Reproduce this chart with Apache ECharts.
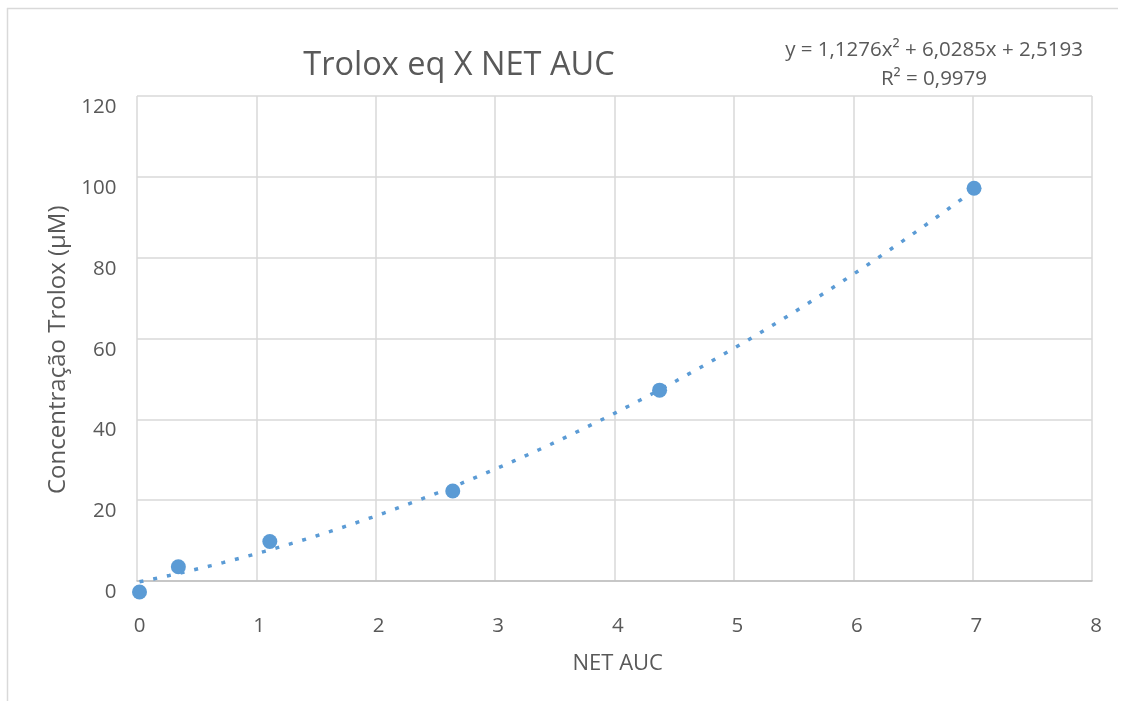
<!DOCTYPE html>
<html>
<head>
<meta charset="utf-8">
<title>Trolox eq X NET AUC</title>
<script src="https://cdn.jsdelivr.net/npm/echarts@6/dist/echarts.min.js"></script>
<style>
  html, body { margin: 0; padding: 0; background: #ffffff; }
  #chart { width: 1122px; height: 701px; }
</style>
</head>
<body>
<div id="chart"></div>
<script>
// Trolox standard curve: NET AUC vs. concentration
const netAuc = [0, 0.325, 1.09, 2.62, 4.35, 6.98];
const trolox = [0, 6.25, 12.5, 25, 50, 100];

// Fitted quadratic trendline, coefficients as printed on the chart
const fitA = 1.1276, fitB = 6.0285, fitC = 2.5193;
const equationText = 'y = 1,1276x² + 6,0285x + 2,5193';
const rSquaredText = 'R² = 0,9979';

const xTicks = [0, 1, 2, 3, 4, 5, 6, 7, 8];
const yTicks = [0, 20, 40, 60, 80, 100, 120];

const chartTitle = 'Trolox eq X NET AUC';
const xName = 'NET AUC';
const yName = 'Concentração Trolox (µM)';

const points = netAuc.map((x, i) => [x, trolox[i]]);

// Trendline spans the data range, evaluated from the fitted coefficients
const trend = [];
const xEnd = netAuc[netAuc.length - 1];
for (let i = 0; i <= 140; i++) {
  const x = xEnd * i / 140;
  trend.push([x, fitA * x * x + fitB * x + fitC]);
}

const FONT = '"Open Sans", Lato, sans-serif';
const TEXT = '#595959';
const BLUE = '#5B9BD5';

const chart = echarts.init(document.getElementById('chart'), null, { renderer: 'canvas' });

chart.setOption({
  backgroundColor: '#ffffff',
  animation: false,
  textStyle: { fontFamily: FONT, color: TEXT },
  title: [
    {
      text: chartTitle,
      left: 459, top: 44, textAlign: 'center', padding: 0,
      textStyle: { fontFamily: FONT, fontSize: 32.5, fontWeight: 'normal', color: TEXT, lineHeight: 44 }
    },
    {
      text: equationText + '\n' + rSquaredText,
      left: 934, top: 35.5, textAlign: 'center', padding: 0,
      textStyle: { fontFamily: FONT, fontSize: 20.5, fontWeight: 'normal', color: TEXT, lineHeight: 29, align: 'center' }
    }
  ],
  graphic: [
    { type: 'line', shape: { x1: 7, y1: 8.5, x2: 1118, y2: 8.5 }, style: { stroke: '#D9D9D9', lineWidth: 1.5 }, silent: true },
    { type: 'line', shape: { x1: 7.5, y1: 8, x2: 7.5, y2: 701 }, style: { stroke: '#D9D9D9', lineWidth: 1.5 }, silent: true }
  ],
  grid: [
    // frame with gridlines
    { left: 137, right: 30, top: 96, bottom: 120, containLabel: false },
    // data scale with tick labels
    { left: 139.5, right: 26, top: 107.5, bottom: 109, containLabel: false }
  ],
  xAxis: [
    {
      gridIndex: 0, type: 'value', min: 0, max: 8, interval: 1,
      axisLine: { show: true, onZero: false, lineStyle: { color: '#BFBFBF', width: 1.5 } },
      axisTick: { show: false }, axisLabel: { show: false },
      splitLine: { show: true, lineStyle: { color: '#D9D9D9', width: 1.5 } }
    },
    {
      gridIndex: 1, type: 'value', min: xTicks[0], max: xTicks[xTicks.length - 1], interval: 1,
      axisLine: { show: false }, axisTick: { show: false },
      splitLine: { show: false },
      axisLabel: { show: true, margin: 24, fontSize: 20.5, color: TEXT, fontFamily: FONT },
      name: xName, nameLocation: 'middle', nameGap: 61,
      nameTextStyle: { fontSize: 22, color: TEXT, fontFamily: FONT }
    }
  ],
  yAxis: [
    {
      gridIndex: 0, type: 'value', min: 0, max: 120, interval: 20,
      axisLine: { show: false }, axisTick: { show: false }, axisLabel: { show: false },
      splitLine: { show: true, lineStyle: { color: '#D9D9D9', width: 1.5 } }
    },
    {
      gridIndex: 1, type: 'value', min: yTicks[0], max: yTicks[yTicks.length - 1], interval: 20,
      axisLine: { show: false }, axisTick: { show: false },
      splitLine: { show: false },
      axisLabel: { show: true, margin: 23, fontSize: 20.5, color: TEXT, fontFamily: FONT },
      name: yName, nameLocation: 'middle', nameGap: 64, nameRotate: 90,
      nameTextStyle: { fontSize: 24, color: TEXT, fontFamily: FONT }
    }
  ],
  series: [
    {
      name: 'Trolox', type: 'scatter', xAxisIndex: 1, yAxisIndex: 1,
      data: points, symbol: 'circle', symbolSize: 15, clip: false,
      itemStyle: { color: BLUE, opacity: 1 }, z: 3
    },
    {
      name: 'Polinomial (Trolox)', type: 'line', xAxisIndex: 1, yAxisIndex: 1,
      data: trend, showSymbol: false, smooth: false, clip: false,
      lineStyle: { color: BLUE, width: 3.5, type: [4, 10], cap: 'butt' }, z: 4
    }
  ]
});
</script>
</body>
</html>
